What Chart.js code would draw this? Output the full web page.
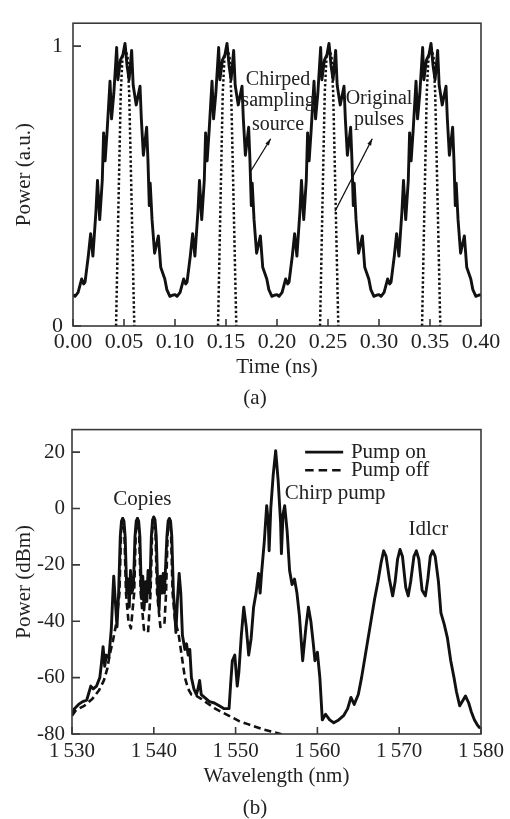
<!DOCTYPE html>
<html>
<head>
<meta charset="utf-8">
<script src="https://cdn.jsdelivr.net/npm/chart.js@4.4.0/dist/chart.umd.min.js"></script>
<style>
  body { margin: 0; background: #fff; width: 510px; height: 819px; position: relative; overflow: hidden; font-family: "Liberation Serif", serif; }
  .box { position: absolute; left: 0; width: 510px; }
  .cap { position: absolute; left: 0; width: 510px; text-align: center; font-size: 21px; line-height: 24px; color: #222; }
</style>
</head>
<body>
<div class="box" style="top:0;height:410px"><canvas id="chartA" width="510" height="410"></canvas></div>
<div class="cap" style="top:385px">(a)</div>
<div class="box" style="top:410px;height:409px"><canvas id="chartB" width="510" height="409"></canvas></div>
<div class="cap" style="top:795px">(b)</div>
<script>
// ---- (a) time domain, one period, repeated every 0.1 ns
const periodStarts = [0, 0.1, 0.2, 0.3];
const sourceT = [0.000, 0.002, 0.005, 0.0085, 0.0105, 0.0118, 0.015, 0.0173, 0.0195, 0.0225,
                 0.024, 0.0262, 0.0287, 0.030, 0.0315, 0.0335, 0.0363, 0.0378, 0.040, 0.0428,
                 0.044, 0.0465, 0.049, 0.051, 0.053, 0.055, 0.0575, 0.059, 0.062, 0.0657,
                 0.067, 0.069, 0.0722, 0.0735, 0.0748, 0.0757, 0.0775, 0.080, 0.0837, 0.086,
                 0.090, 0.092, 0.095, 0.0975, 0.100];
const sourceP = [0.112, 0.106, 0.12, 0.168, 0.15, 0.157, 0.25, 0.33, 0.25, 0.41,
                 0.52, 0.38, 0.52, 0.69, 0.59, 0.70, 0.875, 0.74, 0.83, 0.995,
                 0.88, 0.95, 0.97, 1.01, 0.93, 0.88, 0.985, 0.86, 0.79, 0.857,
                 0.74, 0.61, 0.71, 0.59, 0.43, 0.51, 0.38, 0.26, 0.322, 0.21,
                 0.168, 0.13, 0.106, 0.11, 0.112];
const pulseT = [0.0422, 0.0445, 0.0468, 0.0485, 0.051, 0.0535, 0.0551, 0.0576, 0.0601];
const pulseP = [0, 0.42, 0.83, 0.96, 1.0, 0.96, 0.83, 0.42, 0];
const timeTicks = [0, 0.05, 0.10, 0.15, 0.20, 0.25, 0.30, 0.35, 0.40];
const timeLabels = ['0.00', '0.05', '0.10', '0.15', '0.20', '0.25', '0.30', '0.35', '0.40'];
const powerTicks = [0, 1];
const powerLabels = ['0', '1'];

// ---- (b) spectrum
const onNm = [1530.0, 1530.3, 1530.8, 1531.3, 1531.8, 1532.1, 1532.3, 1532.6, 1533.0, 1533.4,
  1533.6, 1533.8, 1534.0, 1534.2, 1534.5, 1534.8, 1535.0, 1535.1, 1535.3, 1535.5,
  1535.7, 1535.9, 1536.05, 1536.2, 1536.35, 1536.5, 1536.7, 1536.85, 1537.0, 1537.15,
  1537.3, 1537.5, 1537.7, 1537.85, 1538.0, 1538.15, 1538.3, 1538.5, 1538.65, 1538.8,
  1539.0, 1539.15, 1539.3, 1539.5, 1539.7, 1539.85, 1540.0, 1540.15, 1540.3, 1540.5,
  1540.65, 1540.8, 1541.0, 1541.15, 1541.3, 1541.6, 1541.75, 1541.9, 1542.05, 1542.2,
  1542.4, 1542.55, 1542.7, 1542.9, 1543.1, 1543.3, 1543.5,
  1543.8, 1544.0, 1544.2, 1544.4, 1544.6, 1544.9, 1545.2, 1545.4, 1545.6, 1545.8,
  1546.2, 1546.8, 1547.4, 1548.0, 1548.6, 1549.2, 1549.4, 1549.6, 1549.9, 1550.2,
  1550.4, 1550.7, 1551.0, 1551.3, 1551.6, 1551.9, 1552.2, 1552.5, 1552.8, 1553.0,
  1553.2, 1553.5, 1553.8, 1554.0, 1554.1, 1554.3, 1554.6, 1554.9, 1555.2, 1555.5,
  1555.6, 1555.8, 1556.0, 1556.3, 1556.6, 1556.9, 1557.2, 1557.5, 1557.8, 1558.2,
  1558.6, 1558.9, 1559.2, 1559.5, 1559.7, 1560.0, 1560.3, 1560.6, 1561.0, 1561.5,
  1562.0, 1562.6, 1563.2, 1563.7, 1564.1, 1564.5, 1565.0, 1565.4, 1565.8, 1566.2,
  1566.6, 1567.0, 1567.4, 1567.8, 1568.1, 1568.4, 1568.8, 1569.2, 1569.5, 1569.8,
  1570.1, 1570.4, 1570.8, 1571.1, 1571.4, 1571.8, 1572.1, 1572.4, 1572.8, 1573.2,
  1573.5, 1573.8, 1574.1, 1574.4, 1574.8, 1575.1, 1575.5, 1575.9, 1576.3, 1576.7,
  1577.0, 1577.4, 1577.8, 1578.1, 1578.5, 1578.8, 1579.2, 1579.6, 1579.9];
const onDbm = [-73, -71, -69.5, -68.5, -68, -65, -63, -64, -63, -60,
  -55, -49, -56, -52, -53, -43, -30, -24, -33, -42,
  -30, -10, -4.5, -3.5, -4.5, -10, -30, -25, -35, -22,
  -30, -28, -10, -4.5, -3.5, -4.5, -10, -32, -24, -36,
  -26, -33, -22, -30, -10, -4, -3, -4, -10, -30,
  -36, -24, -30, -23, -30, -10, -4.5, -3.5, -4.5, -10,
  -30, -36, -44, -32, -23, -30, -45,
  -50, -48, -52, -50, -60, -64, -66, -64, -61, -66,
  -67, -68.5, -69, -70, -71, -71, -62, -54, -52, -63,
  -58, -45, -35, -42, -52, -46, -35, -30, -23, -30,
  -22, -12, 1, -5, -15, 0, 12, 20.5, 10, -5,
  -16, -2, 1, -8, -22, -27, -25, -30, -38, -54,
  -42, -35, -40, -48, -54, -51, -60, -75, -73, -75,
  -76, -75, -73.5, -71, -67, -69.5, -66, -60, -53, -46,
  -39, -32, -26, -19, -15, -17, -25, -31, -26, -18,
  -14.5, -17, -28, -31, -26, -17, -15, -18, -29, -31,
  -25, -17, -15, -17, -26, -37, -41, -46, -54, -60,
  -65, -70, -68, -66.5, -69, -72, -75, -77, -78];
const offNm = [1530.0, 1530.5, 1531.5, 1532.5, 1533.3, 1533.9, 1534.3, 1534.6, 1535.0, 1535.4,
  1535.8, 1536.0, 1536.2, 1536.4, 1536.6, 1536.9, 1537.2, 1537.6, 1537.8, 1538.0,
  1538.2, 1538.4, 1538.8, 1539.3, 1539.6, 1539.8, 1540.0, 1540.2, 1540.4, 1540.8,
  1541.3, 1541.5, 1541.7, 1541.9, 1542.1, 1542.3, 1542.6, 1543.0, 1543.4, 1543.8,
  1544.2, 1544.6, 1545.2, 1545.8, 1546.5, 1547.5, 1548.5, 1549.5, 1550.5, 1551.5,
  1552.5, 1553.5, 1554.5, 1555.5, 1556.5, 1557.2];
const offDbm = [-73.5, -71.5, -70, -67.5, -64.5, -61, -57, -52, -47, -41,
  -30, -8, -3.5, -8, -30, -40, -42.5, -30, -8, -3.5,
  -8, -30, -43, -44, -30, -8, -3, -8, -30, -42,
  -41, -30, -8, -4, -8, -30, -40, -44, -52, -60,
  -64, -66, -66.5, -67.5, -69, -71, -72.5, -74, -75.5, -76.5,
  -77.5, -78.5, -79.2, -80, -81, -82];
const wlTicks = [1530, 1540, 1550, 1560, 1570, 1580];
const wlLabels = ['1\u2009530', '1\u2009540', '1\u2009550', '1\u2009560', '1\u2009570', '1\u2009580'];
const dbmTicks = [-80, -60, -40, -20, 0, 20];
const dbmLabels = ['-80', '-60', '-40', '-20', '0', '20'];

Chart.defaults.font.family = '"Liberation Serif", "DejaVu Serif", serif';
Chart.defaults.color = '#222';

const INK = '#111';
const AXIS = '#3a3a3a';

// box round the plot and short ticks pointing inwards
const frame = {
  id: 'frame',
  afterDatasetsDraw(chart) {
    const {ctx, chartArea: a, scales} = chart;
    ctx.save();
    ctx.strokeStyle = AXIS;
    ctx.lineWidth = 1.6;
    ctx.strokeRect(a.left, a.top, a.right - a.left, a.bottom - a.top);
    ctx.beginPath();
    scales.x.ticks.forEach(t => {
      const px = scales.x.getPixelForValue(t.value);
      ctx.moveTo(px, a.bottom);
      ctx.lineTo(px, a.bottom - 7);
    });
    scales.y.ticks.forEach(t => {
      const py = scales.y.getPixelForValue(t.value);
      ctx.moveTo(a.left, py);
      ctx.lineTo(a.left + 8, py);
    });
    ctx.stroke();
    ctx.restore();
  }
};

function makeNotes(font, texts, arrows, legendRows) {
  return {
    id: 'notes',
    afterDraw(chart) {
      const {ctx, scales: {x, y}} = chart;
      ctx.save();
      ctx.fillStyle = '#222';
      ctx.strokeStyle = INK;
      ctx.font = font;
      ctx.textBaseline = 'middle';
      texts.forEach(n => {
        ctx.textAlign = n.align || 'center';
        ctx.fillText(n.text, x.getPixelForValue(n.x), y.getPixelForValue(n.y));
      });
      arrows.forEach(ar => {
        const x0 = x.getPixelForValue(ar[0]), y0 = y.getPixelForValue(ar[1]);
        const x1 = x.getPixelForValue(ar[2]), y1 = y.getPixelForValue(ar[3]);
        const ang = Math.atan2(y1 - y0, x1 - x0);
        ctx.lineWidth = 1.3;
        ctx.beginPath();
        ctx.moveTo(x0, y0);
        ctx.lineTo(x1, y1);
        ctx.stroke();
        ctx.beginPath();
        ctx.moveTo(x1, y1);
        ctx.lineTo(x1 - 7 * Math.cos(ang - 0.3), y1 - 7 * Math.sin(ang - 0.3));
        ctx.lineTo(x1 - 7 * Math.cos(ang + 0.3), y1 - 7 * Math.sin(ang + 0.3));
        ctx.closePath();
        ctx.fillStyle = INK;
        ctx.fill();
      });
      ctx.fillStyle = '#222';
      legendRows.forEach(r => {
        const ds = chart.data.datasets[r.ds];
        const py = y.getPixelForValue(r.y);
        ctx.lineWidth = 2.6;
        ctx.setLineDash(r.dash);
        ctx.beginPath();
        ctx.moveTo(x.getPixelForValue(r.x0), py);
        ctx.lineTo(x.getPixelForValue(r.x1), py);
        ctx.stroke();
        ctx.setLineDash([]);
        ctx.textAlign = 'left';
        ctx.fillText(ds.label, x.getPixelForValue(r.tx), py);
      });
      ctx.restore();
    }
  };
}

// ---------- chart (a)
const sourcePts = [];
periodStarts.forEach((t0, k) => {
  sourceT.forEach((t, i) => {
    if (k > 0 && i === 0) return;
    sourcePts.push({x: t0 + t, y: sourceP[i]});
  });
});
const pulsePts = [];
periodStarts.forEach(t0 => {
  pulseT.forEach((t, i) => pulsePts.push({x: t0 + t, y: pulseP[i]}));
  pulsePts.push({x: t0 + 0.08, y: null});
});

new Chart(document.getElementById('chartA'), {
  type: 'line',
  data: {
    datasets: [{
      label: 'Original pulses',
      data: pulsePts,
      borderColor: INK,
      borderWidth: 2.5,
      borderDash: [2.4, 2.3],
      spanGaps: false
    }, {
      label: 'Chirped sampling source',
      data: sourcePts,
      borderColor: INK,
      borderWidth: 2.9
    }]
  },
  options: {
    responsive: false,
    animation: false,
    layout: {padding: {left: 0, right: 29, top: 9, bottom: 30}},
    elements: {point: {radius: 0}, line: {tension: 0, borderJoinStyle: 'round'}},
    plugins: {legend: {display: false}, tooltip: {enabled: false}},
    scales: {
      x: {
        type: 'linear', min: 0, max: 0.4,
        grid: {display: false, drawTicks: false},
        border: {display: false},
        afterBuildTicks: s => { s.ticks = timeTicks.map(v => ({value: v})); },
        afterFit: s => { s.height = 54; },
        ticks: {padding: 3, maxRotation: 0, autoSkip: false, font: {size: 22},
                callback: (v, i) => timeLabels[i]},
        title: {display: true, text: 'Time (ns)', font: {size: 21}, padding: {top: 0, bottom: 0}}
      },
      y: {
        type: 'linear', min: 0, max: 1.082,
        grid: {display: false, drawTicks: false},
        border: {display: false},
        afterBuildTicks: s => { s.ticks = powerTicks.map(v => ({value: v})); },
        afterFit: s => { s.width = 73; },
        ticks: {padding: 10, font: {size: 22}, callback: (v, i) => powerLabels[i]},
        title: {display: true, text: 'Power (a.u.)', font: {size: 21}, padding: {top: 12, bottom: 0}}
      }
    }
  },
  plugins: [frame, makeNotes('20px "Liberation Serif", serif', [
    {text: 'Chirped', x: 0.201, y: 0.879},
    {text: 'sampling', x: 0.201, y: 0.805},
    {text: 'source', x: 0.201, y: 0.72},
    {text: 'Original', x: 0.300, y: 0.811},
    {text: 'pulses', x: 0.300, y: 0.737}
  ], [
    [0.1742, 0.553, 0.1938, 0.669],
    [0.2569, 0.41, 0.2934, 0.669]
  ], [])]
});

// ---------- chart (b)
new Chart(document.getElementById('chartB'), {
  type: 'line',
  data: {
    datasets: [{
      label: 'Pump on',
      data: onNm.map((w, i) => ({x: w, y: onDbm[i]})),
      borderColor: INK,
      borderWidth: 2.9
    }, {
      label: 'Pump off',
      data: offNm.map((w, i) => ({x: w, y: offDbm[i]})),
      borderColor: INK,
      borderWidth: 2.6,
      borderDash: [7, 4]
    }]
  },
  options: {
    responsive: false,
    animation: false,
    layout: {padding: {left: 0, right: 29, top: 9, bottom: 30}},
    elements: {point: {radius: 0}, line: {tension: 0, borderJoinStyle: 'round'}},
    plugins: {legend: {display: false}, tooltip: {enabled: false}},
    scales: {
      x: {
        type: 'linear', min: 1530, max: 1580,
        grid: {display: false, drawTicks: false},
        border: {display: false},
        afterBuildTicks: s => { s.ticks = wlTicks.map(v => ({value: v})); },
        afterFit: s => { s.height = 55; },
        ticks: {padding: 5, maxRotation: 0, autoSkip: false, font: {size: 21},
                callback: (v, i) => wlLabels[i]},
        title: {display: true, text: 'Wavelength (nm)', font: {size: 21}, padding: {top: 0, bottom: 0}}
      },
      y: {
        type: 'linear', min: -80, max: 28,
        grid: {display: false, drawTicks: false},
        border: {display: false},
        afterBuildTicks: s => { s.ticks = dbmTicks.map(v => ({value: v})); },
        afterFit: s => { s.width = 72; },
        ticks: {padding: 7, font: {size: 21}, callback: (v, i) => dbmLabels[i]},
        title: {display: true, text: 'Power (dBm)', font: {size: 21}, padding: {top: 12, bottom: 0}}
      }
    }
  },
  plugins: [frame, makeNotes('21px "Liberation Serif", serif', [
    {text: 'Copies', x: 1538.6, y: 3.3},
    {text: 'Chirp pump', x: 1556.0, y: 5.2, align: 'left'},
    {text: 'Idlcr', x: 1573.56, y: -7.6}
  ], [], [
    {ds: 0, y: 20, x0: 1558.5, x1: 1563.15, tx: 1564.1, dash: []},
    {ds: 1, y: 13.6, x0: 1558.5, x1: 1563.15, tx: 1564.1, dash: [8.5, 5]}
  ])]
});
</script>
</body>
</html>
